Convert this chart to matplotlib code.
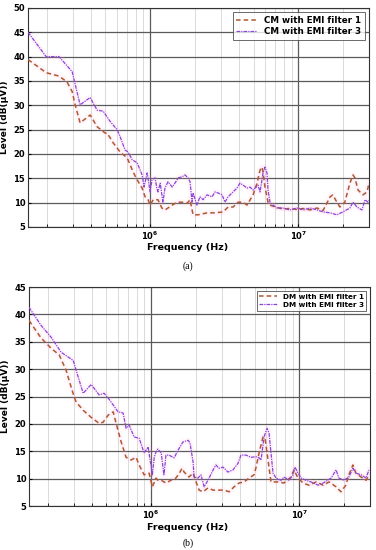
import matplotlib.pyplot as plt
from matplotlib.ticker import LogLocator, NullFormatter

# ----------------------------
# Data (frequency in MHz, level in dB(uV))
# ----------------------------
cm_f1_freq = [0.150, 0.199, 0.243, 0.275, 0.298, 0.312, 0.337, 0.394, 0.439, 0.497,
              0.513, 0.563, 0.628, 0.700, 0.733, 0.768, 0.817, 0.883, 0.925, 0.969,
              1.00, 1.05, 1.11, 1.13, 1.20, 1.26, 1.32, 1.41, 1.52, 1.64,
              1.78, 1.86, 1.92, 1.95, 2.11, 2.42, 2.74, 3.11, 3.36, 3.63,
              3.92, 4.24, 4.51, 4.95, 5.27, 5.52, 5.69, 5.78, 5.96, 6.25,
              6.44, 7.18, 7.88, 8.79, 9.80, 10.8, 12.0, 13.4, 14.7, 16.4,
              17.1, 18.2, 19.1, 20.6, 22.3, 23.4, 24.1, 25.3, 27.3, 29.1, 30.0]
cm_f1_level = [39.4, 36.7, 36.0, 34.8, 32.8, 30.1, 26.4, 28.0, 25.6, 24.3,
               24.3, 22.3, 20.4, 19.2, 17.8, 16.3, 14.7, 13.0, 11.2, 10.6,
               9.5, 10.6, 10.6, 10.6, 8.9, 8.5, 8.9, 9.5, 10.1, 10.1,
               9.9, 10.6, 8.5, 7.5, 7.5, 7.9, 7.9, 8.1, 9.1, 9.1,
               10.1, 10.1, 9.5, 11.6, 14.0, 16.7, 17.3, 16.3, 13.2, 10.1,
               9.5, 9.0, 8.7, 8.8, 8.6, 8.8, 8.5, 8.9, 8.4, 11.2,
               11.6, 10.1, 9.1, 10.1, 14.0, 15.7, 15.1, 12.6, 11.6, 12.2, 14.0]

cm_f3_freq = [0.150, 0.199, 0.243, 0.298, 0.337, 0.394, 0.439, 0.482, 0.537, 0.599,
              0.628, 0.678, 0.711, 0.757, 0.817, 0.883, 0.911, 0.955, 1.00, 1.03,
              1.08, 1.11, 1.13, 1.17, 1.22, 1.26, 1.32, 1.41, 1.47, 1.55,
              1.64, 1.72, 1.80, 1.86, 1.92, 1.95, 2.07, 2.17, 2.28, 2.42,
              2.62, 2.74, 2.87, 3.06, 3.20, 3.36, 3.57, 3.86, 4.04, 4.24,
              4.51, 4.72, 4.95, 5.11, 5.35, 5.52, 5.78, 5.96, 6.15, 6.25,
              6.44, 6.75, 7.18, 7.88, 8.79, 9.80, 10.8, 12.0, 13.4, 14.7,
              16.4, 18.2, 20.0, 22.3, 23.4, 24.9, 26.9, 28.2, 29.5, 30.0]
cm_f3_level = [45.0, 40.0, 40.0, 36.9, 30.1, 31.6, 29.0, 28.8, 26.7, 25.0,
               23.5, 20.8, 20.4, 18.8, 18.2, 15.7, 13.2, 16.1, 12.2, 14.7,
               15.1, 13.0, 12.2, 14.0, 10.1, 13.0, 14.3, 13.2, 14.0, 15.1,
               15.3, 15.7, 15.1, 14.3, 10.1, 12.0, 9.5, 11.2, 10.6, 11.6,
               11.2, 12.2, 12.0, 11.6, 10.1, 11.2, 12.0, 13.0, 14.0, 13.6,
               13.0, 13.2, 12.6, 13.0, 13.6, 12.2, 16.1, 17.3, 16.1, 12.6,
               10.1, 9.5, 8.9, 8.9, 8.5, 8.9, 8.5, 8.9, 8.5, 8.1,
               7.9, 7.5, 8.1, 8.9, 10.1, 9.1, 8.5, 10.6, 10.1, 10.5]

dm_f1_freq = [0.150, 0.181, 0.212, 0.240, 0.267, 0.289, 0.303, 0.312, 0.348, 0.394,
              0.446, 0.474, 0.513, 0.555, 0.581, 0.628, 0.678, 0.733, 0.792, 0.830,
              0.897, 0.969, 1.02, 1.08, 1.11, 1.17, 1.26, 1.36, 1.47, 1.55,
              1.62, 1.67, 1.80, 1.92, 2.01, 2.11, 2.24, 2.42, 2.62, 2.83,
              3.11, 3.36, 3.63, 3.92, 4.24, 4.58, 4.95, 5.11, 5.35, 5.69,
              5.87, 6.15, 6.44, 7.18, 7.88, 8.79, 9.21, 9.80, 10.6, 11.6,
              13.0, 14.5, 15.9, 17.7, 19.1, 20.6, 21.6, 23.0, 24.1, 26.1, 28.2, 29.5]
dm_f1_level = [38.9, 35.7, 33.8, 32.6, 29.8, 26.7, 24.9, 24.0, 22.5, 21.2,
               20.1, 20.3, 21.6, 22.2, 20.1, 16.7, 13.9, 13.4, 13.9, 12.5,
               10.7, 11.0, 8.5, 10.1, 9.7, 9.7, 9.2, 9.7, 10.1, 11.0,
               11.9, 11.2, 10.3, 11.0, 9.4, 7.9, 7.6, 8.3, 7.9, 7.9,
               7.9, 7.6, 8.5, 9.2, 9.4, 10.1, 10.7, 12.1, 14.7, 17.6,
               17.4, 13.4, 9.4, 9.4, 9.2, 10.3, 11.6, 10.1, 9.2, 8.8,
               9.4, 8.8, 9.4, 8.5, 7.6, 8.8, 10.7, 12.5, 11.0, 10.3, 9.7, 10.7]

dm_f3_freq = [0.150, 0.181, 0.212, 0.247, 0.298, 0.348, 0.394, 0.446, 0.482, 0.521,
              0.599, 0.647, 0.678, 0.711, 0.768, 0.830, 0.897, 0.955, 1.02, 1.05,
              1.08, 1.11, 1.17, 1.22, 1.26, 1.32, 1.43, 1.52, 1.64, 1.78,
              1.83, 1.92, 1.95, 2.07, 2.17, 2.28, 2.42, 2.62, 2.74, 2.87,
              3.06, 3.30, 3.57, 3.86, 4.04, 4.37, 4.72, 5.11, 5.35, 5.52,
              5.78, 6.06, 6.25, 6.44, 6.65, 6.97, 7.53, 7.88, 8.53, 9.07,
              9.35, 9.80, 10.3, 11.1, 12.0, 13.4, 14.5, 16.4, 17.7, 18.5,
              20.0, 21.6, 23.0, 24.1, 26.1, 28.2, 29.5]
dm_f3_level = [41.3, 38.0, 35.8, 33.1, 31.6, 25.6, 27.2, 25.3, 25.6, 24.5,
               22.2, 22.0, 19.2, 19.8, 17.6, 17.4, 14.7, 15.8, 10.7, 13.9,
               14.9, 15.4, 14.7, 10.7, 14.3, 14.3, 13.8, 15.2, 16.7, 17.0,
               16.5, 13.0, 10.3, 10.1, 10.7, 8.5, 9.7, 11.6, 12.5, 11.9,
               12.1, 11.2, 11.6, 12.8, 14.3, 14.3, 13.9, 14.0, 13.8, 13.4,
               17.6, 19.2, 18.3, 14.7, 11.0, 10.1, 9.7, 10.3, 9.7, 10.7,
               12.1, 11.0, 10.1, 9.7, 9.4, 8.8, 9.2, 10.1, 11.6, 10.1,
               9.7, 10.3, 11.9, 11.0, 10.7, 10.1, 11.6]

c_f1 = "#b0582e"
c_f3 = "#8a45d8"

fig = plt.figure(figsize=(3.76, 5.5), dpi=100)
ax_a = fig.add_axes([0.0745, 0.5873, 0.9069, 0.3982])
ax_b = fig.add_axes([0.0771, 0.08, 0.907, 0.398])


def draw_panel(ax, f1x, f1y, f3x, f3y, names, ymax, legsize):
    x1 = [v * 1e6 for v in f1x]
    x3 = [v * 1e6 for v in f3x]
    # faint pink halo (jpeg-ish look of the original)
    ax.plot(x1, f1y, color="#ffb0e0", lw=4, alpha=0.12, zorder=2)
    ax.plot(x3, f3y, color="#ffb0e0", lw=4, alpha=0.12, zorder=2)
    ax.plot(x1, f1y, color=c_f1, lw=1.1, ls=(0, (3, 2)), label=names[0], zorder=3)
    ax.plot(x3, f3y, color=c_f3, lw=0.9, ls=(0, (3, 0.8, 1, 0.8)), label=names[1], zorder=3)
    ax.set_xscale("log")
    ax.set_xlim(1.5e5, 3e7)
    ax.set_ylim(5, ymax)
    ax.set_yticks(range(5, ymax + 1, 5))
    ax.xaxis.set_major_locator(LogLocator(base=10, numticks=10))
    ax.xaxis.set_minor_locator(LogLocator(base=10, subs=range(2, 10), numticks=20))
    ax.xaxis.set_minor_formatter(NullFormatter())
    ax.grid(True, which="major", color="#5a5a5a", lw=0.9)
    ax.grid(True, which="minor", axis="x", color="#d4d4d4", lw=0.6)
    ax.set_axisbelow(True)
    ax.tick_params(which="both", direction="in", labelsize=6, length=2, pad=2)
    for lab in ax.get_yticklabels() + ax.get_xticklabels():
        lab.set_fontweight("bold")
    for s in ax.spines.values():
        s.set_color("#333333")
        s.set_linewidth(0.8)
    ax.set_ylabel("Level (dB(μV))", fontsize=6.5, fontweight="bold", labelpad=3)
    leg = ax.legend(loc="upper right", frameon=True, fancybox=False,
                    handlelength=2.4, borderpad=0.4, labelspacing=0.3,
                    prop={"size": legsize, "weight": "bold"})
    leg.get_frame().set_edgecolor("#444444")
    leg.get_frame().set_linewidth(0.7)


draw_panel(ax_a, cm_f1_freq, cm_f1_level, cm_f3_freq, cm_f3_level,
           ["CM with EMI filter 1", "CM with EMI filter 3"], 50, 6.3)
draw_panel(ax_b, dm_f1_freq, dm_f1_level, dm_f3_freq, dm_f3_level,
           ["DM with EMI filter 1", "DM with EMI filter 3"], 45, 5.2)

fig.text(0.5, 1 - 248 / 550, "Frequency (Hz)", ha="center", va="center",
         fontsize=6.8, fontweight="bold")
fig.text(0.5, 1 - 266 / 550, "(a)", ha="center", va="center",
         fontsize=7, family="Liberation Serif")
fig.text(0.5, 1 - 528 / 550, "Frequency (Hz)", ha="center", va="center",
         fontsize=6.8, fontweight="bold")
fig.text(0.5, 1 - 543 / 550, "(b)", ha="center", va="center",
         fontsize=7, family="Liberation Serif")

plt.savefig("out.png", dpi=100)
plt.close()
